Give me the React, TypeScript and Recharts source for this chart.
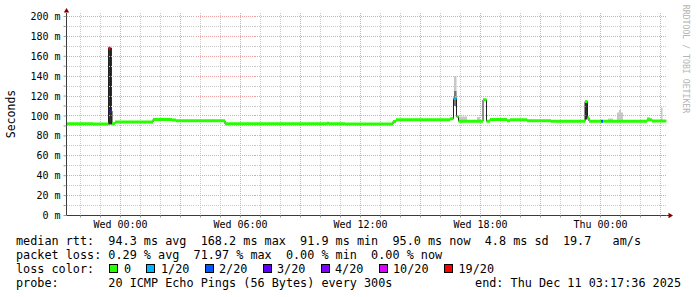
import React from 'react';
import { ComposedChart, Line, Area, XAxis, YAxis, ReferenceLine, ReferenceDot } from 'recharts';

// time axis: hours relative to Wed 00:00
const timeDomain: [number, number] = [-2.7, 27.3];
const valueDomain: [number, number] = [0, 203.5];

const xLabelHours = [0, 6, 12, 18, 24];
const xLabels = ['Wed 00:00', 'Wed 06:00', 'Wed 12:00', 'Wed 18:00', 'Thu 00:00'];
const yLabelValues = [0, 20, 40, 60, 80, 100, 120, 140, 160, 180, 200];

const lossColors = ['#26ff00', '#00b8ff', '#0059ff', '#5e00ff', '#7e00ff', '#dd00ff', '#ff0000'];
const lossLabels = ['0', '1/20', '2/20', '3/20', '4/20', '10/20', '19/20'];

// median rtt (ms), piecewise by start hour
const medianStart = [-2.7, -1.375, -0.6, -0.5, -0.425, -0.275, 1.625, 2.575, 2.775, 5.225, 10.325, 10.425, 11.225, 13.625, 13.775, 16.475, 16.65, 16.8, 16.9, 18.125, 18.3, 18.475, 19.325, 19.475, 20.325, 21.525, 23.225, 23.35, 23.425, 24.025, 24.125, 26.325, 26.575];
const medianValue = [92.3, 92.0, 168.2, 105.0, 92.3, 93.9, 96.5, 96.0, 95.2, 92.1, 92.8, 92.1, 91.9, 94.5, 96.3, 97.3, 117.5, 99.5, 94.8, 116.2, 94.8, 96.5, 95.3, 96.3, 95.3, 94.6, 114.5, 98.3, 94.8, 94.8, 94.6, 96.3, 95.0];
const medianLoss = [0, 0, 6, 3, 0, 0, 0, 0, 0, 0, 0, 0, 0, 0, 0, 0, 1, 0, 0, 0, 0, 0, 0, 0, 0, 0, 0, 0, 0, 2, 0, 0, 0];

// smoke (spread of the pings)
const smokeStart = [-0.625, 16.675, 16.675, 23.225, 16.875, 17.825, 24.375, 24.825, 24.925, 26.325, 27.025];
const smokeEnd = [-0.425, 16.8, 16.8, 23.35, 17.325, 17.975, 24.625, 25.125, 25.025, 26.475, 27.1];
const smokeLow = [91.5, 117, 110, 96.5, 95, 95, 95, 95, 95, 96, 95.5];
const smokeHigh = [168.5, 140, 125, 114, 99.5, 99, 97.5, 103.5, 106, 99, 108.5];
const smokeShade = [2, 0, 1, 2, 0, 0, 0, 0, 0, 0, 0];
const smokeShades = ['#c8c8c8', '#777777', '#2e2e2e'];

const statsRows = [
  'median rtt:  94.3 ms avg  168.2 ms max  91.9 ms min  95.0 ms now  4.8 ms sd  19.7   am/s',
  'packet loss: 0.29 % avg  71.97 % max  0.00 % min  0.00 % now',
];
const probeText = 'probe:       20 ICMP Echo Pings (56 Bytes) every 300s';
const endText = 'end: Thu Dec 11 03:17:36 2025';

const GRID_MINOR = '#c8c8c8';
const GRID_MAJOR = '#e8a4a4';
const ARROW = '#7f0000';
const AXIS = '#3a3a3a';
const MONO = "'DejaVu Sans Mono', monospace";

const hourTicks: number[] = [];
for (let h = Math.ceil(timeDomain[0]); h <= Math.floor(timeDomain[1]); h++) hourTicks.push(h);
const tenTicks: number[] = [];
for (let v = 0; v <= 200; v += 10) tenTicks.push(v);

const segEnd = (i: number) => (i + 1 < medianStart.length ? medianStart[i + 1] : timeDomain[1]);
const medianPath = medianStart.flatMap((s, i) => [
  { t: s, v: medianValue[i] },
  { t: segEnd(i), v: medianValue[i] },
]);

const swatchX = [108.5, 146, 204.5, 262.5, 320.5, 378.5, 444];
const swatchLabelX = [124, 161, 219, 277, 335, 393, 458.5];

export default function App() {
  const textStyle: React.CSSProperties = {
    position: 'absolute',
    fontFamily: MONO,
    fontSize: 11.8,
    lineHeight: '14px',
    whiteSpace: 'pre',
    color: '#000',
  };
  return (
    <div style={{ position: 'absolute', left: 0, top: 0, width: 697, height: 297, background: '#fff', overflow: 'hidden' }}>
      <ComposedChart width={697} height={297} margin={{ top: 13, right: 30.5, bottom: 0, left: 0 }}>
        <XAxis
          type="number"
          dataKey="t"
          domain={timeDomain}
          allowDataOverflow
          ticks={hourTicks}
          interval={0}
          height={81.5}
          tickSize={2}
          tickMargin={3.5}
          tickLine={{ stroke: '#999' }}
          axisLine={{ stroke: AXIS }}
          tickFormatter={(h: number) => {
            const k = xLabelHours.indexOf(h);
            return k >= 0 ? xLabels[k] : '';
          }}
          tick={{ fontFamily: MONO, fontSize: 10, fill: '#000' }}
        />
        <YAxis
          type="number"
          domain={valueDomain}
          allowDataOverflow
          ticks={tenTicks}
          interval={0}
          width={66.5}
          tickSize={3}
          tickMargin={3}
          tickLine={{ stroke: '#999' }}
          axisLine={{ stroke: AXIS }}
          tickFormatter={(v: number) => (yLabelValues.includes(v) ? `${v} m` : '')}
          tick={{ fontFamily: MONO, fontSize: 10, fill: '#000' }}
        />
        {tenTicks.filter((v) => v > 0 && v % 20 !== 0).map((v) => (
          <ReferenceLine key={`hm${v}`} y={v} stroke={GRID_MINOR} strokeDasharray="1 1" shapeRendering="crispEdges" />
        ))}
        {hourTicks.filter((h) => h % 3 !== 0).map((h) => (
          <ReferenceLine key={`vm${h}`} x={h} stroke={GRID_MINOR} strokeDasharray="1 1" shapeRendering="crispEdges" />
        ))}
        {tenTicks.filter((v) => v > 0 && v % 20 === 0).map((v) => (
          <ReferenceLine key={`hM${v}`} y={v} stroke={GRID_MAJOR} strokeDasharray="1 1" shapeRendering="crispEdges" />
        ))}
        {hourTicks.filter((h) => h % 3 === 0).map((h) => (
          <ReferenceLine key={`vM${h}`} x={h} stroke={GRID_MAJOR} strokeDasharray="1 1" shapeRendering="crispEdges" />
        ))}
        {smokeStart.map((s, i) => (
          <Area
            key={`smoke${i}`}
            data={[
              { t: s, r: [smokeLow[i], smokeHigh[i]] },
              { t: smokeEnd[i], r: [smokeLow[i], smokeHigh[i]] },
            ]}
            dataKey="r"
            type="linear"
            stroke="none"
            fill={smokeShades[smokeShade[i]]}
            fillOpacity={1}
            isAnimationActive={false}
            dot={false}
            activeDot={false}
          />
        ))}
        <Line
          data={medianPath}
          dataKey="v"
          type="linear"
          stroke="#202020"
          strokeWidth={1}
          dot={false}
          activeDot={false}
          isAnimationActive={false}
        />
        {medianStart.map((s, i) => (
          <Line
            key={`med${i}`}
            data={[
              { t: s, v: medianValue[i] },
              { t: segEnd(i), v: medianValue[i] },
            ]}
            dataKey="v"
            type="linear"
            stroke={lossColors[medianLoss[i]]}
            strokeWidth={3}
            dot={false}
            activeDot={false}
            isAnimationActive={false}
          />
        ))}
        <ReferenceDot
          x={timeDomain[1]}
          y={0}
          r={0}
          ifOverflow="visible"
          shape={(p: any) => (
            <g>
              <line x1={p.cx} y1={p.cy} x2={p.cx + 3} y2={p.cy} stroke={AXIS} />
              <path d={`M${p.cx + 2},${p.cy - 2.7} L${p.cx + 6.5},${p.cy} L${p.cx + 2},${p.cy + 2.7} Z`} fill={ARROW} />
            </g>
          )}
        />
        <ReferenceDot
          x={timeDomain[0]}
          y={valueDomain[1]}
          r={0}
          ifOverflow="visible"
          shape={(p: any) => (
            <path d={`M${p.cx - 2.7},${p.cy - 0.5} L${p.cx},${p.cy - 5} L${p.cx + 2.7},${p.cy - 0.5} Z`} fill={ARROW} />
          )}
        />
      </ComposedChart>

      <div
        style={{
          position: 'absolute', left: 11, top: 114, transform: 'translate(-50%, -50%) rotate(-90deg)',
          fontFamily: MONO, fontSize: 11.5, whiteSpace: 'nowrap', color: '#000',
        }}
      >
        Seconds
      </div>
      <div
        style={{
          position: 'absolute', left: 686, top: 59, transform: 'translate(-50%, -50%) rotate(90deg)',
          fontFamily: MONO, fontSize: 8.2, whiteSpace: 'nowrap', color: '#b4b4b4',
        }}
      >
        RRDTOOL / TOBI OETIKER
      </div>

      <div style={{ ...textStyle, left: 16, top: 234 }}>{statsRows[0]}</div>
      <div style={{ ...textStyle, left: 16, top: 248 }}>{statsRows[1]}</div>
      <div style={{ ...textStyle, left: 16, top: 262 }}>loss color:</div>
      {lossColors.map((c, i) => (
        <React.Fragment key={`lg${i}`}>
          <div
            style={{
              position: 'absolute', left: swatchX[i], top: 264, width: 7, height: 7,
              background: c, border: '1px solid #000',
            }}
          />
          <div style={{ ...textStyle, left: swatchLabelX[i], top: 262 }}>{lossLabels[i]}</div>
        </React.Fragment>
      ))}
      <div style={{ ...textStyle, left: 16, top: 276 }}>{probeText}</div>
      <div style={{ ...textStyle, right: 697 - 681, top: 276 }}>{endText}</div>
    </div>
  );
}
